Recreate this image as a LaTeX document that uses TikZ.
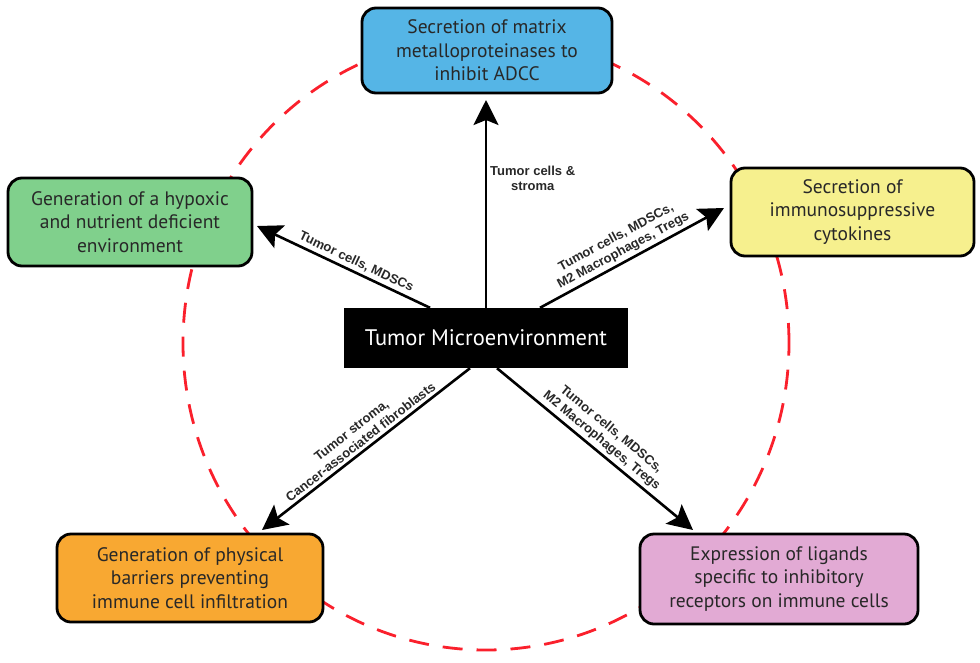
\documentclass[tikz,border=0pt]{standalone}
\usepackage{fontspec}
\setmainfont{PT Sans}
\newfontfamily\labfont{Liberation Sans}
\usetikzlibrary{arrows.meta}
\definecolor{cblue}{RGB}{85,181,230}
\definecolor{cgreen}{RGB}{128,208,140}
\definecolor{cyellow}{RGB}{246,240,142}
\definecolor{corange}{RGB}{248,168,50}
\definecolor{cpink}{RGB}{226,170,212}
\definecolor{cred}{RGB}{250,32,44}
\definecolor{textgray}{RGB}{40,40,40}
\begin{document}
\begin{tikzpicture}[x=1pt,y=-1pt,
  box/.style={draw=black, line width=2.8pt, rounded corners=14pt, align=center,
    font=\fontsize{19.5}{23.5}\selectfont, text=textgray, inner sep=0pt},
  conn/.style={line width=2.6pt, -{Stealth[length=25pt,width=25pt,inset=5pt]}},
  lab/.style={font=\labfont\bfseries\fontsize{13}{15}\selectfont, align=center, inner sep=3pt, text=textgray},
  ring/.style={draw=cred, line width=2.8pt, dash pattern=on 20pt off 14pt}]
\useasboundingbox (0,0) rectangle (980,662);
\path[ring] (486,343) ellipse[x radius=303pt, y radius=307pt];

\node[box, fill=cblue, minimum width=250pt, minimum height=85pt] (top) at (487,50.5)
  {Secretion of matrix\\metalloproteinases to\\inhibit ADCC};
\node[box, fill=cgreen, minimum width=244pt, minimum height=88pt] (left) at (130,222)
  {Generation of a hypoxic\\and nutrient deficient\\environment};
\node[box, fill=cyellow, minimum width=243pt, minimum height=88pt] (right) at (852.5,212)
  {Secretion of\\immunosuppressive\\cytokines};
\node[box, fill=corange, minimum width=266pt, minimum height=88pt] (bl) at (190,578)
  {Generation of physical\\barriers preventing\\immune cell infiltration};
\node[box, fill=cpink, minimum width=278pt, minimum height=90pt] (br) at (779,579)
  {Expression of ligands\\specific to inhibitory\\receptors on immune cells};

\node[fill=black, text=white, minimum width=284pt, minimum height=60pt, inner sep=0pt,
  font=\fontsize{22.5}{26}\selectfont] (tm) at (486,338) {Tumor Microenvironment};

\coordinate (eT) at (486,100);
\coordinate (eL) at (257,226);
\coordinate (eR) at (724,208);
\coordinate (eBL) at (262,530);
\coordinate (eBR) at (693,530);

\draw[conn] (tm.north) -- (eT);
\node[lab, anchor=west] (labT) at (487,178) {Tumor cells \&\\stroma};
\draw[conn] ([xshift=-56pt]tm.north) -- node[lab, sloped, above, pos=0.45] (labL) {Tumor cells, MDSCs} (eL);
\draw[conn] ([xshift=54pt]tm.north) -- node[lab, sloped, above, pos=0.48] (labR) {Tumor cells, MDSCs,\\M2 Macrophages, Tregs} (eR);
\draw[conn] ([xshift=-16pt]tm.south) -- node[lab, sloped, above, pos=0.5] (labBL) {Tumor stroma,\\Cancer-associated fibroblasts} (eBL);
\draw[conn] ([xshift=11pt]tm.south) -- node[lab, sloped, above, pos=0.5] (labBR) {Tumor cells, MDSCs,\\M2 Macrophages, Tregs} (eBR);
\end{tikzpicture}
\end{document}
